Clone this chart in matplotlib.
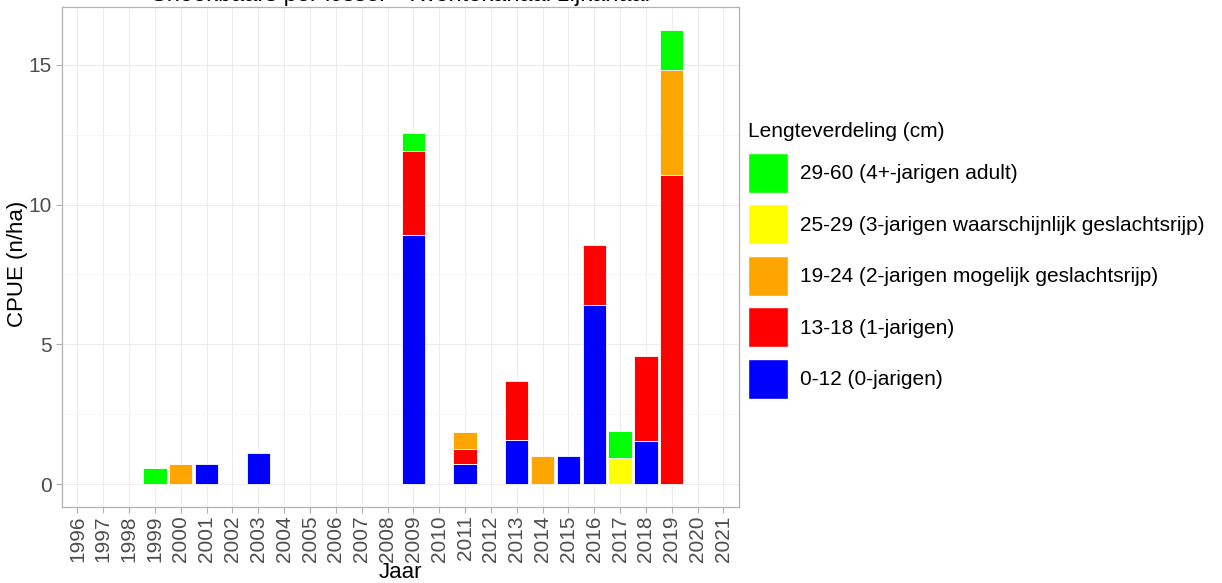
import numpy as np
import matplotlib
matplotlib.use("Agg")
import matplotlib.pyplot as plt
from matplotlib.patches import Patch

plt.rcParams['font.family'] = ['Liberation Sans', 'DejaVu Sans']

years = list(range(1996, 2022))

# CPUE per length class (n/ha)
klasse_0_12 = {2001: 0.71, 2003: 1.13, 2009: 8.9, 2011: 0.74, 2013: 1.58,
               2015: 1.0, 2016: 6.42, 2018: 1.53}
klasse_13_18 = {2009: 3.0, 2011: 0.52, 2013: 2.12, 2016: 2.13, 2018: 3.07,
                2019: 11.06}
klasse_19_24 = {2000: 0.73, 2011: 0.62, 2014: 1.02, 2019: 3.75}
klasse_25_29 = {2017: 0.94}
klasse_29_60 = {1999: 0.58, 2009: 0.65, 2017: 0.96, 2019: 1.44}

labels = ["0-12 (0-jarigen)", "13-18 (1-jarigen)",
          "19-24 (2-jarigen mogelijk geslachtsrijp)",
          "25-29 (3-jarigen waarschijnlijk geslachtsrijp)",
          "29-60 (4+-jarigen adult)"]
colors = ["#0000FF", "#FF0000", "#FFA500", "#FFFF00", "#00FF00"]
series = [klasse_0_12, klasse_13_18, klasse_19_24, klasse_25_29, klasse_29_60]

fig = plt.figure(figsize=(12.22, 5.83), dpi=100)
ax = fig.add_axes([0.0507, 0.1304, 0.554, 0.8576])

x = np.arange(len(years))
bottom = np.zeros(len(years))
for vals, col in zip(series, colors):
    h = np.array([vals.get(y, 0.0) for y in years])
    keep = h > 0
    ax.bar(x[keep], h[keep], width=0.9, bottom=bottom[keep], color=col,
           edgecolor="white", linewidth=0.6, zorder=3)
    bottom += h

ymax = bottom.max()
ax.set_ylim(-0.05 * ymax, ymax * 1.05)
ax.set_xlim(-0.6, len(years) - 0.4)
ax.set_xticks(x)
ax.set_xticklabels([str(y) for y in years], rotation=90, fontsize=15, color="#4D4D4D")
ax.set_yticks([0, 5, 10, 15])
ax.set_yticks([2.5, 7.5, 12.5], minor=True)
ax.tick_params(axis="y", labelsize=15, labelcolor="#4D4D4D", color="#B3B3B3", length=4)
ax.tick_params(axis="x", color="#B3B3B3", length=4, pad=2)
ax.tick_params(axis="y", which="minor", length=0)

ax.grid(True, which="major", color="#EDEDED", linewidth=0.8, zorder=0)
ax.grid(True, which="minor", axis="y", color="#F5F5F5", linewidth=0.6, zorder=0)
ax.set_axisbelow(True)
for sp in ax.spines.values():
    sp.set_color("#B3B3B3")
    sp.set_linewidth(0.9)

ax.set_xlabel("Jaar", fontsize=16, labelpad=0)
ax.set_ylabel("CPUE (n/ha)", fontsize=16, va="center")
ax.yaxis.set_label_coords(-0.066, 0.487)

fig.text(0.3275, 1 - 1 / 583, "Snoekbaars per IJssel - Twentekanaal zijkanaal",
         ha="center", va="baseline", fontsize=17)

handles = [Patch(facecolor=c, edgecolor="white") for c in colors][::-1]
leg = fig.legend(handles, labels[::-1], loc="center left",
                 bbox_to_anchor=(0.612, 0.553), frameon=False, fontsize=15,
                 title="Lengteverdeling (cm)", title_fontsize=15,
                 handlelength=1.92, handleheight=2.58, labelspacing=0.55,
                 handletextpad=0.58, alignment="left", borderaxespad=0,
                 borderpad=0)

fig.savefig("out.png", dpi=100)
